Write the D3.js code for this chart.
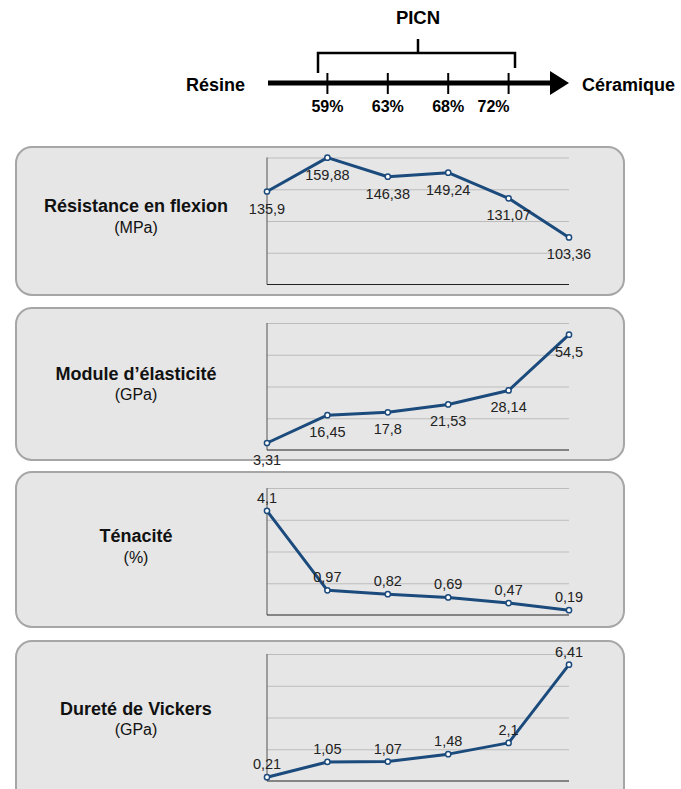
<!DOCTYPE html>
<html><head><meta charset="utf-8">
<script src="https://cdn.jsdelivr.net/npm/d3@7"></script>
<style>
html,body{margin:0;padding:0;background:#fff;}
svg{display:block;font-family:"Liberation Sans",Arial,Helvetica,sans-serif;}
</style></head>
<body>
<svg id="c" width="681" height="789"></svg>
<script>
// ---- data ----
const categories = ["Résine", "59%", "63%", "68%", "72%", "Céramique"];
const picnTicks = ["59%", "63%", "68%", "72%"];
const panelTitles = ["Résistance en flexion", "Module d\u2019élasticité", "Ténacité", "Dureté de Vickers"];
const panelUnits = ["(MPa)", "(GPa)", "(%)", "(GPa)"];
const flexion = [135.9, 159.88, 146.38, 149.24, 131.07, 103.36];
const elasticite = [3.31, 16.45, 17.8, 21.53, 28.14, 54.5];
const tenacite = [4.1, 0.97, 0.82, 0.69, 0.47, 0.19];
const vickers = [0.21, 1.05, 1.07, 1.48, 2.1, 6.41];
const series = [flexion, elasticite, tenacite, vickers];
const domains = [[70, 160], [0, 60], [0, 5], [0, 7]];

// ---- layout ----
const svg = d3.select("#c");
const x = d3.scalePoint().domain(categories).range([267, 569]);
const blue = "#1b4a7c";

// top diagram
const head = svg.append("g");
const ay = 83;
head.append("line").attr("x1", 268).attr("x2", 552).attr("y1", ay).attr("y2", ay)
  .attr("stroke", "#000").attr("stroke-width", 5);
head.append("path").attr("d", `M550,${ay-12}L569,${ay}L550,${ay+12}Z`).attr("fill", "#000");
picnTicks.forEach(t => {
  head.append("line").attr("x1", x(t)).attr("x2", x(t)).attr("y1", 73).attr("y2", 94)
    .attr("stroke", "#000").attr("stroke-width", 2);
  head.append("text").attr("x", t === "72%" ? x(t) + 1 : x(t)).attr("y", 112)
    .attr("text-anchor", t === "72%" ? "end" : "middle")
    .attr("font-size", 16).attr("font-weight", "bold").text(t);
});
head.append("path").attr("d", "M318,73V53H515V68M418,53V39")
  .attr("fill", "none").attr("stroke", "#000").attr("stroke-width", 2.5);
head.append("text").attr("x", 418).attr("y", 24).attr("text-anchor", "middle")
  .attr("font-size", 18.5).attr("font-weight", "bold").text("PICN");
head.append("text").attr("x", 186).attr("y", 91)
  .attr("font-size", 18).attr("font-weight", "bold").text(categories[0]);
head.append("text").attr("x", 582).attr("y", 91)
  .attr("font-size", 18).attr("font-weight", "bold").text(categories[5]);

// panels
const panels = [
  {y0: 147, y1: 295, plotTop: 157.5, cx: 136, ty: 212, uy: 233, below: true},
  {y0: 308, y1: 460, plotTop: 323, cx: 136, ty: 380, uy: 400, below: true},
  {y0: 472, y1: 627, plotTop: 488, cx: 136, ty: 542, uy: 563, below: false},
  {y0: 641, y1: 806, plotTop: 654, cx: 136, ty: 715, uy: 735, below: false}
];
const ph = 127;

panels.forEach((p, i) => {
  const g = svg.append("g");
  g.append("rect").attr("x", 16).attr("y", p.y0).attr("width", 608).attr("height", p.y1 - p.y0)
    .attr("rx", 16).attr("ry", 16).attr("fill", "#e6e6e6").attr("stroke", "#a6a6a6").attr("stroke-width", 2);
  g.append("text").attr("x", p.cx).attr("y", p.ty).attr("text-anchor", "middle")
    .attr("font-size", 18).attr("font-weight", "bold").attr("fill", "#111").text(panelTitles[i]);
  g.append("text").attr("x", p.cx).attr("y", p.uy).attr("text-anchor", "middle")
    .attr("font-size", 16).attr("fill", "#111").text(panelUnits[i]);

  const y = d3.scaleLinear().domain(domains[i]).range([p.plotTop + ph, p.plotTop]);
  const ticks = d3.range(5).map(k => domains[i][0] + k * (domains[i][1] - domains[i][0]) / 4);
  // gridlines
  g.append("g").attr("transform", `translate(${x.range()[0]},0)`)
    .call(d3.axisLeft(y).tickValues(ticks.slice(1)).tickSize(-(x.range()[1] - x.range()[0])).tickFormat(""))
    .call(a => a.select(".domain").remove())
    .call(a => a.selectAll("line").attr("stroke", "#bcbcbc").attr("stroke-width", 1));
  // axes
  g.append("line").attr("x1", x.range()[0]).attr("x2", x.range()[0])
    .attr("y1", y.range()[1]).attr("y2", y.range()[0]).attr("stroke", "#555").attr("stroke-width", 1);
  g.append("line").attr("x1", x.range()[0]).attr("x2", x.range()[1])
    .attr("y1", y.range()[0]).attr("y2", y.range()[0]).attr("stroke", "#222").attr("stroke-width", 1);

  const vals = series[i];
  const line = d3.line().x((d, k) => x(categories[k])).y(d => y(d));
  g.append("path").datum(vals).attr("d", line).attr("fill", "none")
    .attr("stroke", blue).attr("stroke-width", 3).attr("stroke-linejoin", "round");
  g.selectAll("circle").data(vals).join("circle")
    .attr("cx", (d, k) => x(categories[k])).attr("cy", d => y(d)).attr("r", 2.6)
    .attr("fill", "#fff").attr("stroke", blue).attr("stroke-width", 1.5);
  g.selectAll("text.v").data(vals).join("text").attr("class", "v")
    .attr("x", (d, k) => x(categories[k]))
    .attr("y", d => y(d) + (p.below ? 22 : -8))
    .attr("text-anchor", "middle").attr("font-size", 14.5).attr("fill", "#222")
    .text(d => String(d).replace(".", ","));
});
</script>
</body></html>
